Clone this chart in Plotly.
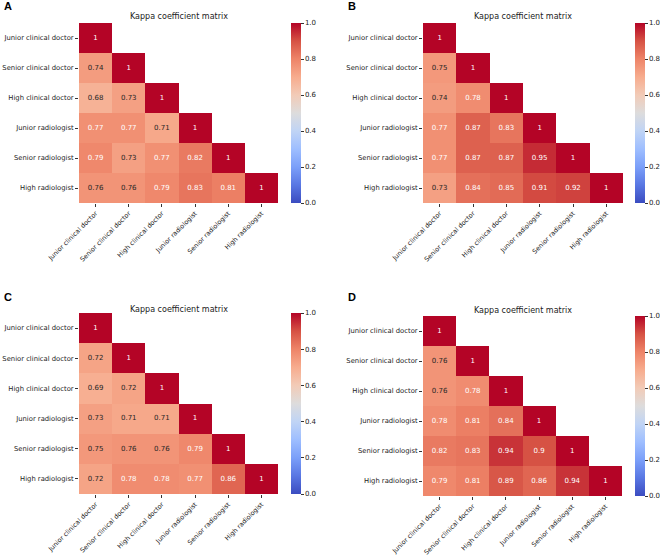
import plotly.graph_objects as go

W, H = 660, 556

labels = ["Junior clinical doctor", "Senior clinical doctor", "High clinical doctor",
          "Junior radiologist", "Senior radiologist", "High radiologist"]

# lower-triangular kappa values (row by row, diagonal = 1)
kappa_A = [[1],
           [0.74, 1],
           [0.68, 0.73, 1],
           [0.77, 0.77, 0.71, 1],
           [0.79, 0.73, 0.77, 0.82, 1],
           [0.76, 0.76, 0.79, 0.83, 0.81, 1]]
kappa_B = [[1],
           [0.75, 1],
           [0.74, 0.78, 1],
           [0.77, 0.87, 0.83, 1],
           [0.77, 0.87, 0.87, 0.95, 1],
           [0.73, 0.84, 0.85, 0.91, 0.92, 1]]
kappa_C = [[1],
           [0.72, 1],
           [0.69, 0.72, 1],
           [0.73, 0.71, 0.71, 1],
           [0.75, 0.76, 0.76, 0.79, 1],
           [0.72, 0.78, 0.78, 0.77, 0.86, 1]]
kappa_D = [[1],
           [0.76, 1],
           [0.76, 0.78, 1],
           [0.78, 0.81, 0.84, 1],
           [0.82, 0.83, 0.94, 0.9, 1],
           [0.79, 0.81, 0.89, 0.86, 0.94, 1]]

panel_letters = ["A", "B", "C", "D"]
matrices = [kappa_A, kappa_B, kappa_C, kappa_D]

coolwarm = [[0.0, "#3b4cc0"], [0.1, "#5977e3"], [0.2, "#7b9ff9"], [0.3, "#9ebeff"],
            [0.4, "#c0d4f5"], [0.5, "#dddcdc"], [0.6, "#f2cbb7"], [0.7, "#f7ac8e"],
            [0.8, "#ee8468"], [0.9, "#d65244"], [1.0, "#b40426"]]

# panel geometry in pixels: (x0, x1, y0, y1, colorbar_x, title_y, letter_x, letter_y)
geom = [
    (79, 278, 23, 203, 291, 16, 2, 6),
    (423, 623, 23, 203, 635, 16, 346, 6),
    (79, 278, 313, 494, 291, 309, 2, 297),
    (423, 622, 316, 496, 635, 310, 346, 297),
]

FONT = "DejaVu Sans"
fig = go.Figure()
annotations = []
n = len(labels)

for k, (mat, letter, g) in enumerate(zip(matrices, panel_letters, geom)):
    x0, x1, y0, y1, cbx, ty, lx, ly = g
    xa = "x" if k == 0 else f"x{k+1}"
    ya = "y" if k == 0 else f"y{k+1}"
    z = [[mat[i][j] if j <= i else None for j in range(n)] for i in range(n)]
    fig.add_trace(go.Heatmap(
        z=z, x=list(range(n)), y=list(range(n)),
        zmin=0, zmax=1, colorscale=coolwarm, hoverinfo="skip",
        xaxis=xa, yaxis=ya,
        colorbar=dict(
            x=cbx / W, xanchor="left", xref="paper",
            y=1 - (y0 + y1) / 2 / H, yanchor="middle", yref="paper",
            len=(y1 - y0) / H, lenmode="fraction",
            thickness=10, thicknessmode="pixels", xpad=0, ypad=0,
            outlinewidth=0, ticks="outside", ticklen=3, tickwidth=0.8,
            tickcolor="#333", tickvals=[0, 0.2, 0.4, 0.6, 0.8, 1.0],
            tickformat=".1f", tickfont=dict(family=FONT, size=7, color="#222"),
        ),
    ))
    # cell annotations
    tx, tyy, tt, tc = [], [], [], []
    for i in range(n):
        for j in range(i + 1):
            v = mat[i][j]
            tx.append(j)
            tyy.append(i)
            tt.append("{:.2g}".format(v))
            tc.append("#262626" if v < 0.765 else "#ffffff")
    fig.add_trace(go.Scatter(
        x=tx, y=tyy, text=tt, mode="text", xaxis=xa, yaxis=ya,
        textfont=dict(family=FONT, size=7, color=tc),
        hoverinfo="skip", showlegend=False,
    ))
    xkey = "xaxis" if k == 0 else f"xaxis{k+1}"
    ykey = "yaxis" if k == 0 else f"yaxis{k+1}"
    fig.update_layout(**{
        xkey: dict(domain=[x0 / W, x1 / W], anchor=ya, range=[-0.5, n - 0.5],
                   tickvals=list(range(n)), ticktext=labels, tickangle=-45,
                   ticks="outside", ticklen=3, tickwidth=0.8, tickcolor="#333",
                   showgrid=False, zeroline=False, showline=False, automargin=False,
                   tickfont=dict(family=FONT, size=6.5, color="#222")),
        ykey: dict(domain=[1 - y1 / H, 1 - y0 / H], anchor=xa, range=[n - 0.5, -0.5],
                   tickvals=list(range(n)), ticktext=labels,
                   ticks="outside", ticklen=3, tickwidth=0.8, tickcolor="#333",
                   showgrid=False, zeroline=False, showline=False, automargin=False,
                   tickfont=dict(family=FONT, size=6.8, color="#222")),
    })
    annotations.append(dict(
        text="Kappa coefficient matrix", x=(x0 + x1) / 2 / W, y=1 - ty / H,
        xref="paper", yref="paper", xanchor="center", yanchor="middle",
        showarrow=False, font=dict(family=FONT, size=8, color="#222")))
    annotations.append(dict(
        text="<b>" + letter + "</b>", x=lx / W, y=1 - ly / H,
        xref="paper", yref="paper", xanchor="left", yanchor="middle",
        showarrow=False, font=dict(family="Liberation Sans", size=11, color="#000")))

fig.update_layout(
    width=W, height=H, margin=dict(l=0, r=0, t=0, b=0, autoexpand=False),
    paper_bgcolor="white", plot_bgcolor="white",
    showlegend=False, annotations=annotations,
)

fig.write_html("out.html")
